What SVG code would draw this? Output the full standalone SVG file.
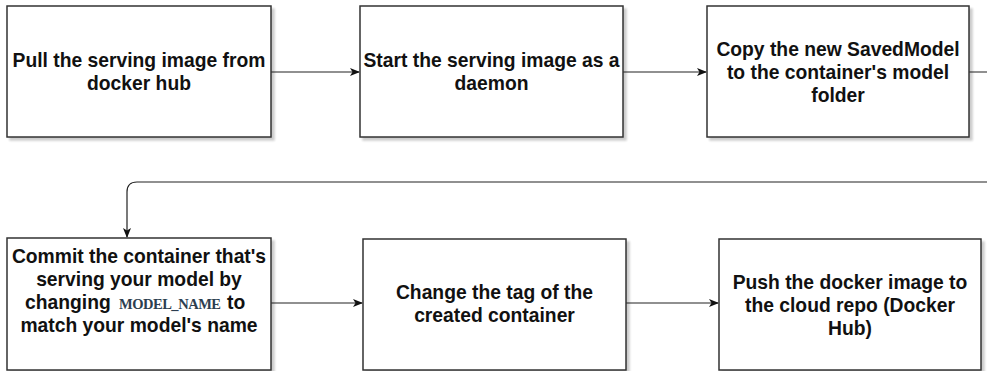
<svg xmlns="http://www.w3.org/2000/svg" width="987" height="371" viewBox="0 0 987 371">
  <defs>
    <filter id="shadow" x="-5%" y="-5%" width="115%" height="120%">
      <feGaussianBlur in="SourceAlpha" stdDeviation="1.2"/>
      <feOffset dx="3" dy="3" result="b"/>
      <feComponentTransfer><feFuncA type="linear" slope="0.2"/></feComponentTransfer>
      <feMerge><feMergeNode/><feMergeNode in="SourceGraphic"/></feMerge>
    </filter>
    <marker id="arrow" viewBox="0 0 10 8" refX="9" refY="4" markerWidth="10" markerHeight="8" markerUnits="userSpaceOnUse" orient="auto">
      <path d="M0,0 L10,4 L0,8 L2.5,4 z" fill="#111"/>
    </marker>
    <style>
      .box { fill: #ffffff; stroke: #333333; stroke-width: 1.5; filter: url(#shadow); }
      .lbl { font-family: "Liberation Sans", Arial, Helvetica, sans-serif; font-size: 19.3px; font-weight: bold; fill: #111111; text-anchor: middle; }
      .mono { font-family: "Liberation Serif", "Times New Roman", serif; font-size: 14.5px; font-weight: bold; fill: #2c3e50; }
      .edge { fill: none; stroke: #222222; stroke-width: 1.2; }
    </style>
  </defs>
  <rect width="987" height="371" fill="#ffffff"/>

  <g id="connectors">
    <path class="edge" d="M271,72 H359" marker-end="url(#arrow)"/>
    <path class="edge" d="M623,72 H706" marker-end="url(#arrow)"/>
    <path class="edge" d="M969,72 H1000 V182 H137 Q127,182 127,192 V237" marker-end="url(#arrow)"/>
    <path class="edge" d="M271,303 H362" marker-end="url(#arrow)"/>
    <path class="edge" d="M626,303 H718" marker-end="url(#arrow)"/>
  </g>

  <g id="node-pull">
    <rect class="box" x="7" y="6" width="264" height="131"/>
    <text class="lbl"><tspan x="139" y="67">Pull the serving image from</tspan><tspan x="139" y="90">docker hub</tspan></text>
  </g>

  <g id="node-start">
    <rect class="box" x="360" y="6" width="263" height="131"/>
    <text class="lbl"><tspan x="491.5" y="67">Start the serving image as a</tspan><tspan x="491.5" y="90">daemon</tspan></text>
  </g>

  <g id="node-copy">
    <rect class="box" x="707" y="6" width="262" height="131"/>
    <text class="lbl"><tspan x="838" y="56">Copy the new SavedModel</tspan><tspan x="838" y="79">to the container's model</tspan><tspan x="838" y="102">folder</tspan></text>
  </g>

  <g id="node-commit">
    <rect class="box" x="7" y="238" width="264" height="132"/>
    <text class="lbl"><tspan x="139" y="263">Commit the container that's</tspan><tspan x="139" y="286">serving your model by</tspan></text>
    <text class="lbl" style="text-anchor:start"><tspan x="25" y="309">changing</tspan></text>
    <text class="mono" x="119" y="309" textLength="102" lengthAdjust="spacing">MODEL_NAME</text>
    <text class="lbl" style="text-anchor:start"><tspan x="227" y="309">to</tspan></text>
    <text class="lbl"><tspan x="139" y="332">match your model's name</tspan></text>
  </g>

  <g id="node-tag">
    <rect class="box" x="363" y="239" width="263" height="131"/>
    <text class="lbl"><tspan x="494.5" y="299">Change the tag of the</tspan><tspan x="494.5" y="322">created container</tspan></text>
  </g>

  <g id="node-push">
    <rect class="box" x="719" y="239" width="262" height="131"/>
    <text class="lbl"><tspan x="850" y="289">Push the docker image to</tspan><tspan x="850" y="312">the cloud repo (Docker</tspan><tspan x="850" y="335">Hub)</tspan></text>
  </g>
</svg>
